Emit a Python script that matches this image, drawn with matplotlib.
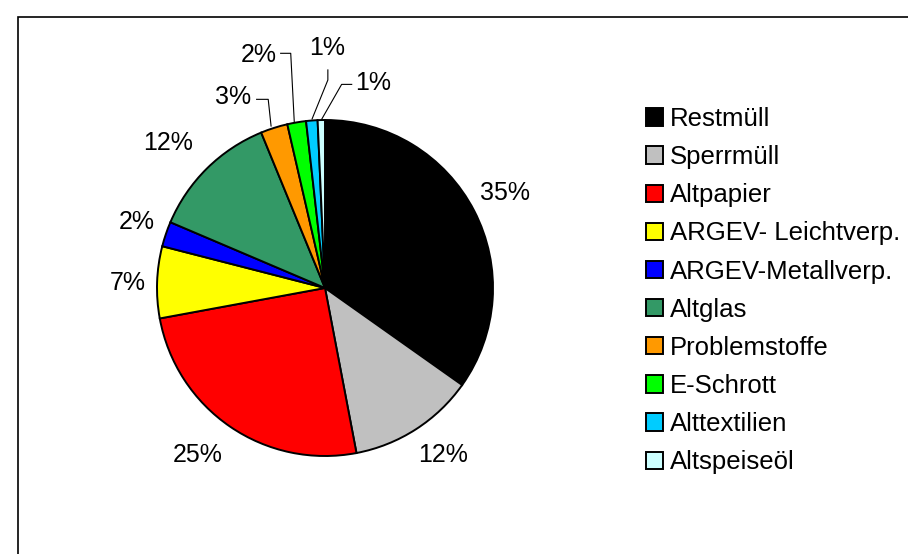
import matplotlib
matplotlib.use("Agg")
import matplotlib.pyplot as plt
from matplotlib.patches import Rectangle, Patch

plt.rcParams['font.family'] = ['Liberation Sans', 'DejaVu Sans']

categories = ["Restmüll", "Sperrmüll", "Altpapier", "ARGEV- Leichtverp.",
              "ARGEV-Metallverp.", "Altglas", "Problemstoffe", "E-Schrott",
              "Alttextilien", "Altspeiseöl"]
shares = [34.8, 12.2, 25.1, 6.9, 2.4, 12.4, 2.6, 1.8, 1.1, 0.7]
colors = ["#000000", "#c0c0c0", "#ff0000", "#ffff00", "#0000ff",
          "#339966", "#ff9900", "#00ff00", "#00ccff", "#ccffff"]

# label positions (pie radius = 1)
label_pos = [(1.07, 0.565), (0.70, -0.994), (-0.756, -0.994), (-1.173, 0.03),
             (-1.119, 0.393), (-0.935, 0.863), (-0.545, 1.134), (-0.396, 1.387),
             (0.015, 1.426), (0.289, 1.223)]
# leader lines for the small slices
leaders = {
    6: [(-0.407, 1.123), (-0.338, 1.123), (-0.321, 0.964)],
    7: [(-0.264, 1.397), (-0.204, 1.397), (-0.183, 0.990)],
    8: [(0.017, 1.298), (0.017, 1.238), (-0.077, 1.006)],
    9: [(0.159, 1.212), (0.099, 1.212), (-0.020, 1.004)],
}

W, H = 908, 554
fig = plt.figure(figsize=(W / 100, H / 100), dpi=100)

# outer frame (runs off right and bottom edge)
fig.patches.append(Rectangle((18 / W, -0.1), 1.2, 1 - 17 / H + 0.1,
                             transform=fig.transFigure, fill=False,
                             edgecolor="black", linewidth=1.2))

cx, cy, r = 325, 288, 168
ax = fig.add_axes([(cx - r) / W, (H - cy - r) / H, 2 * r / W, 2 * r / H])
ax.pie(shares, colors=colors, startangle=90, counterclock=False,
       wedgeprops=dict(edgecolor="black", linewidth=1.4))
ax.set_xlim(-1, 1)
ax.set_ylim(-1, 1)
ax.set_aspect("equal")
ax.axis("off")

for i, (v, (x, y)) in enumerate(zip(shares, label_pos)):
    ax.text(x, y, f"{round(v):d}%", ha="center", va="center", fontsize=18,
            clip_on=False)
for i, pts in leaders.items():
    xs, ys = zip(*pts)
    ax.plot(xs, ys, color="black", linewidth=0.8, clip_on=False)

handles = [Patch(facecolor=c, edgecolor="black", linewidth=1.4) for c in colors]
fig.legend(handles, categories, loc="upper left",
           bbox_to_anchor=(646 / W, 1 - 107 / H), frameon=False,
           fontsize=18.5, handlelength=0.66, handleheight=0.66,
           handletextpad=0.26, labelspacing=0.55, borderpad=0,
           borderaxespad=0)

fig.savefig("out.png", dpi=100)
